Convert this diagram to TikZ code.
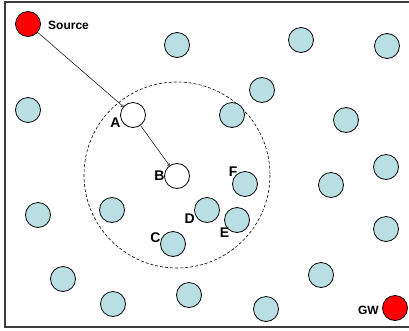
\documentclass[tikz,border=0pt]{standalone}
\usepackage{fontspec}
\setmainfont{Liberation Sans}
\usetikzlibrary{positioning}
\usetikzlibrary{arrows}
\definecolor{nodeteal}{RGB}{185, 223, 226}
\definecolor{nodered}{RGB}{255, 0, 0}
\definecolor{framegray}{RGB}{60, 60, 60}

\begin{document}
\begin{tikzpicture}[x=1pt, y=-1pt,
    sensor/.style={circle, draw=black, line width=0.8pt, fill=nodeteal, minimum size=25pt, inner sep=0pt},
    hop/.style={sensor, fill=white},
    sink/.style={sensor, fill=nodered},
    lab/.style={font=\fontsize{14}{14}\selectfont\bfseries, inner sep=0.5pt},
    tag/.style={font=\fontsize{12}{12}\selectfont\bfseries, inner sep=0pt},
    every label/.style={lab}]

        \useasboundingbox (0,0) rectangle (409,330);

        % Frame
        \draw[framegray, line width=1.4pt] (5,2) rectangle (414,327);

        % Range of node A
        \draw[line width=0.6pt, dash pattern=on 3pt off 2pt] (177,175) circle (93);

        % Source and gateway
        \node[sink] (src) at (28,24) {};
        \node[tag, anchor=west] (srcLabel) at (48,25) {Source};
        \node[sink] (gw) at (395,308) {};
        \node[tag, anchor=east] (gwLabel) at (379,310) {GW};

        % Forwarding nodes
        \node[hop, label={[label distance=-1pt]190:A}] (nodeA) at (133,115) {};
        \node[hop, label={[label distance=-1pt]180:B}] (nodeB) at (177,176) {};

        % Neighbours of A
        \node[sensor, label={[label distance=-1pt]175:C}] (nodeC) at (173,244) {};
        \node[sensor, label={[label distance=-1pt]195:D}] (nodeD) at (207,210) {};
        \node[sensor, label={[label distance=-3pt]225:E}] (nodeE) at (237,220) {};
        \node[sensor, label={[label distance=-3pt]135:F}] (nodeF) at (245,184) {};
        \node[sensor] (n1) at (112,210) {};
        \node[sensor] (n2) at (232,115) {};

        % Other nodes
        \node[sensor] (n3) at (177,45) {};
        \node[sensor] (n4) at (301,40) {};
        \node[sensor] (n5) at (387,46) {};
        \node[sensor] (n6) at (28,110) {};
        \node[sensor] (n7) at (262,90) {};
        \node[sensor] (n8) at (346,120) {};
        \node[sensor] (n9) at (386,167) {};
        \node[sensor] (n10) at (331,185) {};
        \node[sensor] (n11) at (386,229) {};
        \node[sensor] (n12) at (38,215) {};
        \node[sensor] (n13) at (321,275) {};
        \node[sensor] (n14) at (63,279) {};
        \node[sensor] (n15) at (113,304) {};
        \node[sensor] (n16) at (189,295) {};
        \node[sensor] (n17) at (266,309) {};

        % Route
        \draw[->, >=to, line width=0.5pt] (src) -- (nodeA);
        \draw[->, >=to, line width=0.5pt] (nodeA) -- (nodeB);

    \end{tikzpicture}
\end{document}
